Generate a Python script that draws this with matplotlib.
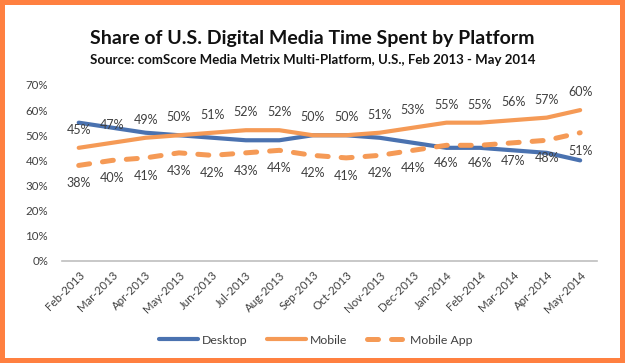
import matplotlib

matplotlib.use("Agg")
import matplotlib.pyplot as plt
from matplotlib.patches import Rectangle
from matplotlib.ticker import PercentFormatter

plt.rcParams["font.family"] = ["Lato", "DejaVu Sans"]

MONTHS = [
    "Feb-2013", "Mar-2013", "Apr-2013", "May-2013", "Jun-2013", "Jul-2013",
    "Aug-2013", "Sep-2013", "Oct-2013", "Nov-2013", "Dec-2013", "Jan-2014",
    "Feb-2014", "Mar-2014", "Apr-2014", "May-2014",
]
DESKTOP = [55, 53, 51, 50, 49, 48, 48, 50, 50, 49, 47, 45, 45, 44, 43, 40]
MOBILE = [45, 47, 49, 50, 51, 52, 52, 50, 50, 51, 53, 55, 55, 56, 57, 60]
MOBILE_APP = [38, 40, 41, 43, 42, 43, 44, 42, 41, 42, 44, 46, 46, 47, 48, 51]
Y_TICKS = [0, 10, 20, 30, 40, 50, 60, 70]

BLUE = "#4a72b0"
ORANGE = "#f59a56"
BORDER = "#ff8040"
TEXT = "#404040"

fig = plt.figure(figsize=(6.25, 3.63), dpi=100)
fig.patches.append(Rectangle((0, 0), 1, 1, transform=fig.transFigure,
                             facecolor="none", edgecolor=BORDER, linewidth=7.2))

ax = fig.add_axes([0.0992, 0.281, 0.8558, 0.485])
x = list(range(len(MONTHS)))

ax.plot(x, DESKTOP, color=BLUE, linewidth=3.0, solid_capstyle="round", label="Desktop")
ax.plot(x, MOBILE, color=ORANGE, linewidth=3.0, solid_capstyle="round", label="Mobile")
ax.plot(x, MOBILE_APP, color=ORANGE, linewidth=3.6, linestyle=(0, (2.2, 2.6)),
        dash_capstyle="round", label="Mobile App")

for i, v in enumerate(MOBILE):
    ax.annotate(f"{v}%", (i, v), xytext=(0, 13), textcoords="offset points",
                ha="center", va="center", fontsize=9, color=TEXT)
for i, v in enumerate(MOBILE_APP):
    ax.annotate(f"{v}%", (i, v), xytext=(0, -13), textcoords="offset points",
                ha="center", va="center", fontsize=9, color=TEXT)

ax.set_xlim(-0.5, len(MONTHS) - 0.5)
ax.set_ylim(0, 70)
ax.set_yticks(Y_TICKS)
ax.yaxis.set_major_formatter(PercentFormatter(decimals=0))
ax.set_xticks(x)
ax.set_xticklabels(MONTHS, rotation=45, ha="right", rotation_mode="anchor")
ax.tick_params(axis="both", length=0, labelsize=8.3, labelcolor=TEXT)
ax.tick_params(axis="y", pad=10)
ax.tick_params(axis="x", pad=6)
for side in ["top", "right", "left"]:
    ax.spines[side].set_visible(False)
ax.spines["bottom"].set_color("#bfbfbf")
ax.spines["bottom"].set_linewidth(1.2)

fig.text(0.5, 0.895, "Share of U.S. Digital Media Time Spent by Platform",
         ha="center", va="center", fontsize=14, fontweight="bold", color="#111111")
fig.text(0.5, 0.835, "Source: comScore Media Metrix Multi-Platform, U.S., Feb 2013 - May 2014",
         ha="center", va="center", fontsize=9.5, fontweight="bold", color="#111111")

fig.legend(loc="center", bbox_to_anchor=(0.505, 0.063), ncol=3, frameon=False,
           fontsize=8.8, handlelength=3.2, handletextpad=0.3, columnspacing=1.6,
           labelcolor=TEXT)

fig.savefig("out.png", dpi=100, facecolor="white")
